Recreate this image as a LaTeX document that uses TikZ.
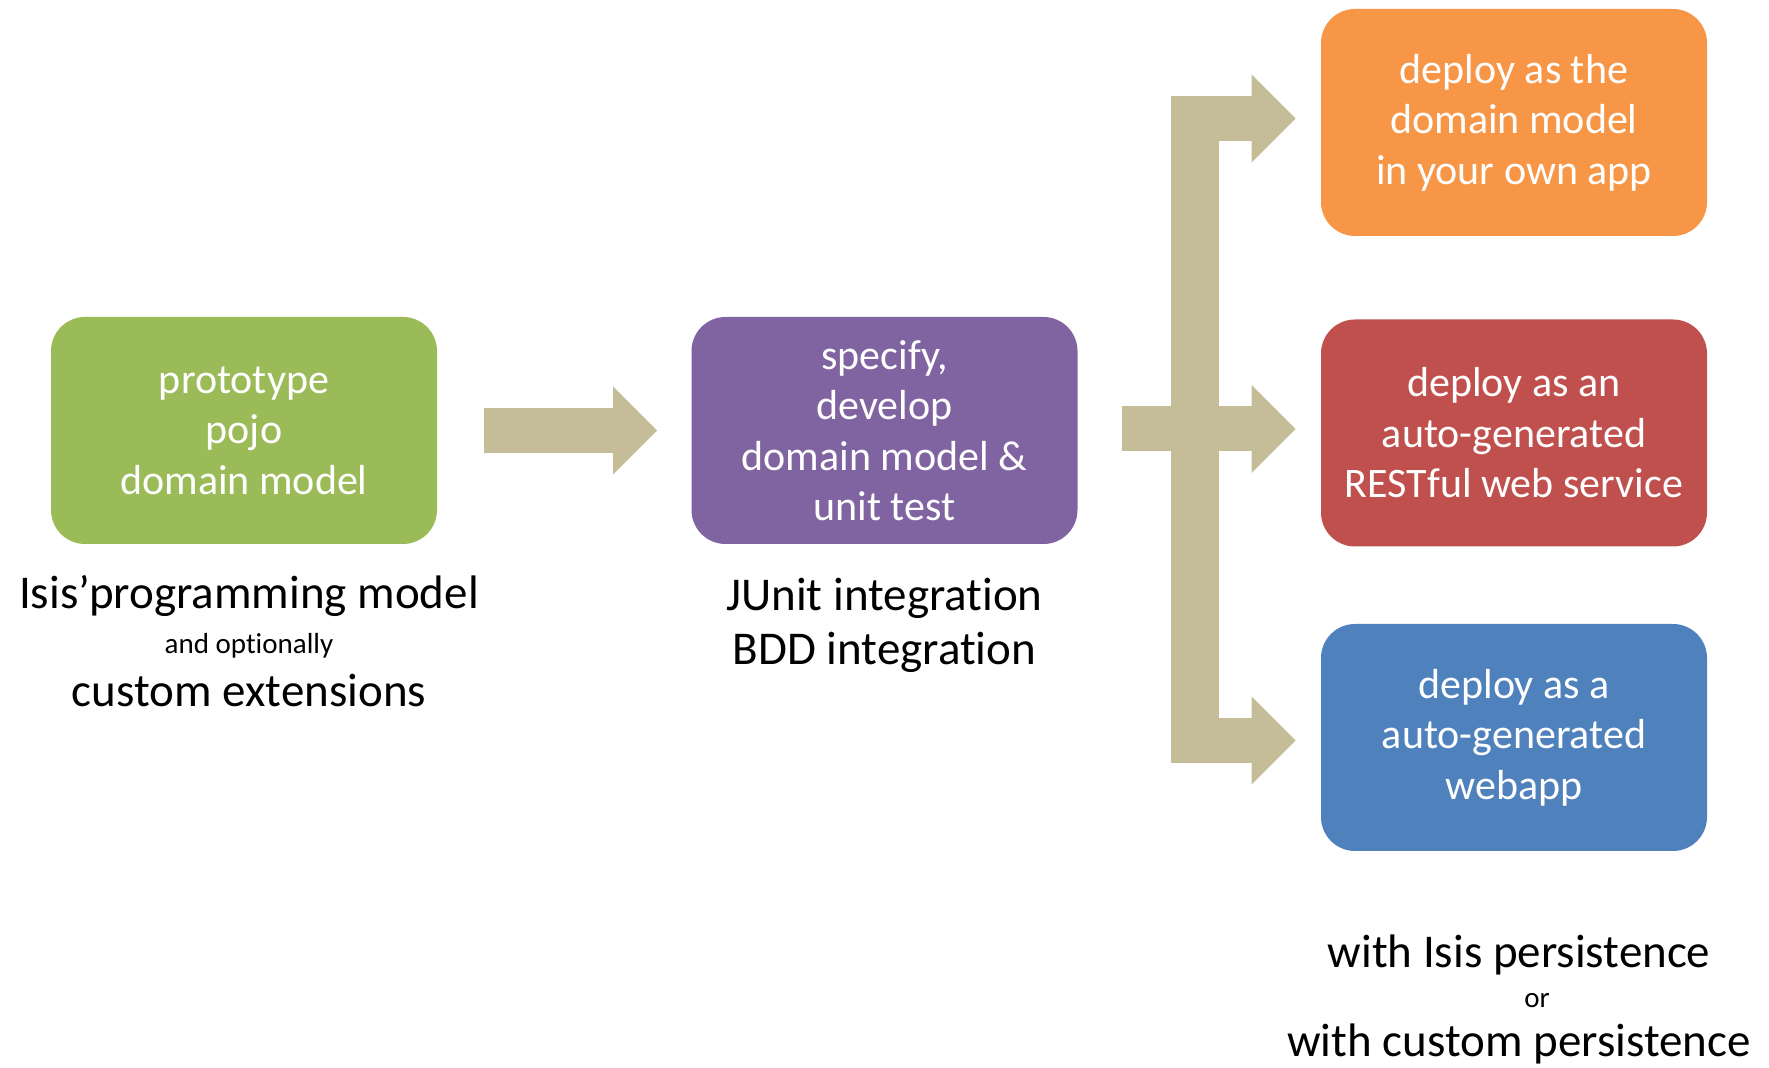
\documentclass[tikz,border=0pt]{standalone}
\usepackage{fontspec}
\setmainfont{Carlito}[Ligatures={TeX,NoCommon}]
\usetikzlibrary{arrows.meta,calc}
\definecolor{protogreen}{HTML}{9BBB59}
\definecolor{devpurple}{HTML}{8064A2}
\definecolor{deployorange}{HTML}{F79646}
\definecolor{deployred}{HTML}{C0504D}
\definecolor{deployblue}{HTML}{4F81BD}
\definecolor{arrowtan}{HTML}{C4BD97}

\tikzset{
  stagebox/.style={rounded corners=17pt, minimum width=193pt, minimum height=113.5pt,
    inner sep=0pt, text=white, align=center, font=\fontsize{21}{25.25}\selectfont},
  flowarrow/.style={draw=arrowtan, line width=22.5pt,
    -{Triangle[length=22pt,width=44pt,line width=0pt]}},
  caption/.style={inner sep=0pt, anchor=base, align=center,
    font=\fontsize{23.5}{27}\selectfont},
}

\begin{document}
\begin{tikzpicture}[x=0.5pt, y=-0.5pt]
\useasboundingbox (0,0) rectangle (1769,1068);

% Stage boxes
\node[stagebox, fill=protogreen] (proto) at (244,430.5) {prototype\\pojo\\domain model};
\node[stagebox, fill=devpurple] (develop) at (884.5,430.5) {specify,\\develop\\domain model \&\\unit test};
\node[stagebox, fill=deployorange] (ownapp) at (1514,122.5) {deploy as the\\domain model\\in your own app};
\node[stagebox, fill=deployred] (restful) at (1514,433) {deploy as an\\auto-generated\\RESTful web service};
\node[stagebox, fill=deployblue] (webapp) at (1514,737.5) {deploy as a\\auto-generated\\webapp};

% Arrow from prototype to develop
\draw[flowarrow, shorten <=23.5pt, shorten >=17pt] (proto) -- (develop);

% Branching arrow to the three deployments
\coordinate (split) at (1195,429);
\draw[arrowtan, line width=22.5pt, shorten <=22.25pt] (develop.east |- split) -- (split);
\fill[arrowtan] ($(split |- ownapp)+(-24,-26.5)$) rectangle ($(split |- webapp)+(24,25.5)$);
\draw[flowarrow, shorten >=12.5pt] ($(split |- ownapp)+(0,-4)$) -- ($(ownapp.west)+(0,-4)$);
\draw[flowarrow, shorten >=12.5pt] (split) -- (split -| restful.west);
\draw[flowarrow, shorten >=12.5pt] ($(split |- webapp)+(0,3)$) -- ($(webapp.west)+(0,3)$);

% Captions
\node[caption] (protocap) at (249,707) {Isis’programming model\\[-4.5pt]
  {\fontsize{14.5}{16}\selectfont and optionally}\\[-0.5pt] custom extensions};
\node[caption] (devcap) at (884.5,665) {JUnit integration\\BDD integration};
\node[caption] (deploycap) at (1519,1057) {with Isis persistence\\[-7pt]
  {\fontsize{14.5}{16}\selectfont\hspace*{18pt}or}\\[-2.5pt] with custom persistence};
\end{tikzpicture}
\end{document}
